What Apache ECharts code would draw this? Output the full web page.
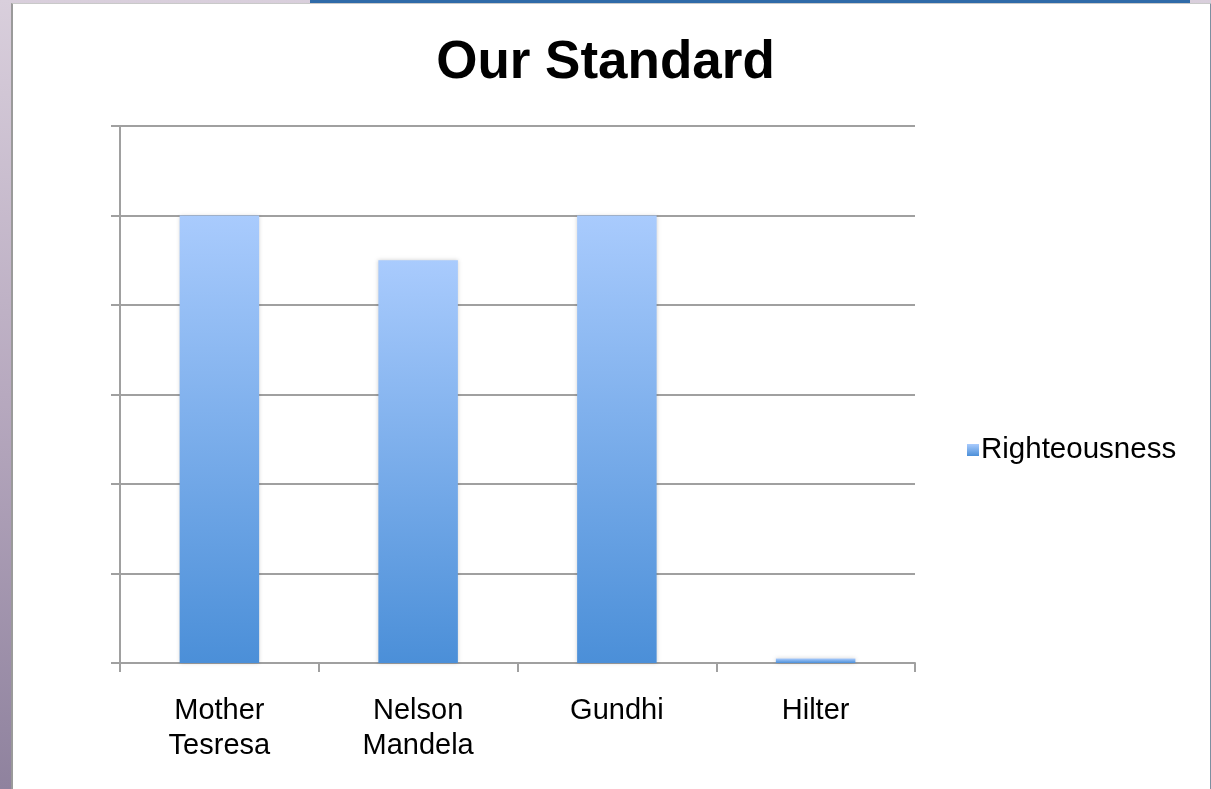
<!DOCTYPE html>
<html>
<head>
<meta charset="utf-8">
<script src="https://cdn.jsdelivr.net/npm/echarts@6/dist/echarts.min.js"></script>
<style>
  html, body { margin: 0; padding: 0; width: 1211px; height: 789px; overflow: hidden; }
  body { background: linear-gradient(180deg, #d9cfdc 0%, #b7a9bf 50%, #8f829e 100%); position: relative; }
  #topstrip { position: absolute; left: 310px; top: 0; width: 880px; height: 3px; background: #2f6aa8; }
  #panel { position: absolute; left: 11px; top: 3px; width: 1197px; height: 790px; background: #fff; border-left: 2px solid #9a9a9a; border-top: 1px solid #c9c9c9; border-right: 2px solid #7d8fa0; }
  #chart { position: absolute; left: 0; top: 0; width: 1211px; height: 789px; }
</style>
</head>
<body>
<div id="topstrip"></div>
<div id="panel"></div>
<div id="chart"></div>
<script>
const titleText = "Our Standard";
const categories = ["Mother\nTesresa", "Nelson\nMandela", "Gundhi", "Hilter"];
const seriesName = "Righteousness";
const values = [5, 4.5, 5, 0.05];

const chart = echarts.init(document.getElementById('chart'), null, { renderer: 'canvas' });
const fontFam = '"Liberation Sans", Arial, Helvetica, sans-serif';
const barGradient = new echarts.graphic.LinearGradient(0, 0, 0, 1, [
  { offset: 0, color: '#a9cbfd' },
  { offset: 1, color: '#4b8fd8' }
]);
chart.setOption({
  backgroundColor: 'transparent',
  animation: false,
  title: {
    text: titleText,
    left: 'center',
    top: 32,
    textStyle: { fontFamily: fontFam, fontSize: 53, fontWeight: 'bold', color: '#000' }
  },
  legend: {
    orient: 'vertical',
    left: 962,
    top: 430,
    itemWidth: 12,
    itemHeight: 12,
    itemGap: 10,
    icon: 'rect',
    textStyle: { fontFamily: fontFam, fontSize: 29.5, color: '#000', padding: [0, 0, 0, -3] },
    data: [seriesName]
  },
  grid: { left: 120, right: 296, top: 126, bottom: 126, containLabel: false },
  xAxis: {
    type: 'category',
    data: categories,
    axisLine: { show: true, lineStyle: { color: '#a0a0a0', width: 2 } },
    axisTick: { show: true, alignWithLabel: false, length: 9, lineStyle: { color: '#a0a0a0', width: 2 } },
    axisLabel: { fontFamily: fontFam, fontSize: 29, color: '#000', margin: 30, lineHeight: 35, interval: 0 }
  },
  yAxis: {
    type: 'value',
    min: 0,
    max: 6,
    interval: 1,
    axisLine: { show: true, lineStyle: { color: '#a0a0a0', width: 2 } },
    axisTick: { show: true, inside: false, length: 9, lineStyle: { color: '#a0a0a0', width: 2 } },
    axisLabel: { show: false },
    splitLine: { show: true, lineStyle: { color: '#a0a0a0', width: 2 } }
  },
  series: [{
    name: seriesName,
    type: 'bar',
    data: values,
    barWidth: '40%',
    itemStyle: {
      color: barGradient,
      shadowBlur: 4,
      shadowColor: 'rgba(0,0,0,0.18)',
      shadowOffsetX: 0,
      shadowOffsetY: 0
    }
  }]
});
</script>
</body>
</html>
